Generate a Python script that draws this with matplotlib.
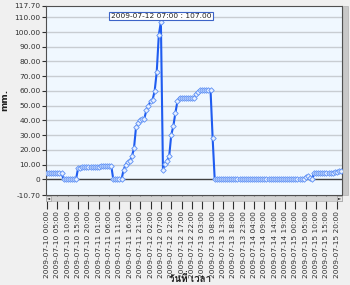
"""
กราฟปริมาณน้ำฝนรายชั่วโมง 2009-07-10 ถึง 2009-07-15 (mm.)
"""
import matplotlib
matplotlib.use("Agg")
import matplotlib.pyplot as plt
import matplotlib.patches as mpatches
from matplotlib import font_manager
from matplotlib.ft2font import FT2Font
import pandas as pd

# ─── Datos ────────────────────────────────────────────────────────────────────
START = "2009-07-10 00:00"
N_HOURS = 143

rain_mm = [
    4.0, 4.0, 4.0, 4.0, 4.0, 4.0, 4.0, 4.0,
    0.0, 0.0, 0.0, 0.0, 0.0, 0.0, 0.0,
    7.5, 7.8,
    8.4, 8.4, 8.4, 8.4, 8.4, 8.4, 8.4, 8.4, 8.4,
    9.3, 9.3, 9.3, 9.3, 9.3, 9.3,
    0.0, 0.0, 0.0, 0.0, 0.0,
    6.5, 10.0, 11.5, 12.5, 15.5, 21.0, 35.5, 38.0, 40.0, 41.0,
    41.2, 47.0, 50.0, 53.0, 54.0, 60.0, 73.0, 98.0, 107.0,
    6.6, 10.5, 12.5, 15.5, 30.0, 36.0, 45.0, 53.0, 55.5,
    55.5, 55.5, 55.5, 55.5, 55.5, 55.5, 55.5,
    58.0, 59.5, 60.3, 60.5, 60.5, 60.5, 60.5, 60.3, 28.0,
    0.0, 0.0, 0.0, 0.0, 0.0, 0.0, 0.0, 0.0, 0.0, 0.0,
    0.0, 0.0, 0.0, 0.0, 0.0, 0.0, 0.0, 0.0, 0.0, 0.0,
    0.0, 0.0, 0.0, 0.0, 0.0, 0.0, 0.0, 0.0, 0.0, 0.0,
    0.0, 0.0, 0.0, 0.0, 0.0, 0.0, 0.0, 0.0, 0.0, 0.0,
    0.0, 0.0, 0.0,
    0.5, 1.2, 2.2, 1.0, 0.0, 4.0,
    4.2, 4.2, 4.2, 4.2, 4.2, 4.2, 4.2, 4.2,
    4.4, 4.8, 5.2, 5.3, 5.3,
]

Y_TICKS = [-10.7, 0, 10, 20, 30, 40, 50, 60, 70, 80, 90, 100, 110, 117.7]
Y_LABELS = ["-10.70", "0", "10.00", "20.00", "30.00", "40.00", "50.00",
            "60.00", "70.00", "80.00", "90.00", "100.00", "110.00", "117.70"]
GRID_Y = [10, 20, 30, 40, 50, 60, 70, 80, 90, 100, 110]

tiempos = pd.date_range(START, periods=N_HOURS, freq="h")
X_TICKS = list(range(0, N_HOURS, 5))
X_LABELS = [tiempos[i].strftime("%Y-%m-%d %H:%M") for i in X_TICKS]

PEAK_IDX = rain_mm.index(max(rain_mm))
TOOLTIP = f"{tiempos[PEAK_IDX].strftime('%Y-%m-%d %H:%M')} : {rain_mm[PEAK_IDX]:.2f}"

# ─── Fuente con glifos tailandeses ────────────────────────────────────────────
def buscar_fuente_thai():
    for f in font_manager.fontManager.ttflist:
        try:
            if FT2Font(f.fname).get_char_index(ord("ว")):
                return f.name
        except Exception:
            continue
    return None

THAI = buscar_fuente_thai()
plt.rcParams["font.family"] = ["DejaVu Sans"]

# ─── Figura ───────────────────────────────────────────────────────────────────
W, H = 350, 285
fig = plt.figure(figsize=(W / 100, H / 100), dpi=100)
fig.patch.set_facecolor("#F0F0F0")

L, R, T, B = 46, 342, 6, 195
ax = fig.add_axes([L / W, 1 - B / H, (R - L) / W, (B - T) / H])
ax.set_facecolor("#F0F8FF")

for g in GRID_Y:
    ax.axhline(g, color="#C8CDD2", lw=1.0, zorder=1)
ax.axhline(0, color="#404040", lw=1.0, zorder=2)

ax.plot(range(len(rain_mm)), rain_mm, color="#1F5CF0", lw=1.5,
        marker="D", markersize=2.8, markerfacecolor="#E6EFFF",
        markeredgecolor="#5A8EF5", markeredgewidth=0.6, zorder=3)

ax.text(PEAK_IDX, 110.9, TOOLTIP, ha="center", va="center", fontsize=5.3,
        color="#202020", zorder=5,
        bbox=dict(boxstyle="square,pad=0.2", fc="white", ec="#3C64C8", lw=0.8))

ax.set_xlim(-0.5, N_HOURS - 0.5)
ax.set_ylim(-10.7, 117.7)

ax.set_yticks(Y_TICKS)
ax.set_yticklabels(Y_LABELS)
ax.set_xticks(X_TICKS)
ax.set_xticklabels(X_LABELS, rotation=90)
ax.tick_params(axis="y", direction="out", length=3, width=0.8, pad=1,
               labelsize=5.3, colors="#303030")
ax.tick_params(axis="x", direction="out", length=10, width=0.8, pad=1.5,
               labelsize=5.3, colors="#303030")
for s in ax.spines.values():
    s.set_color("#505050")
    s.set_linewidth(0.8)

# barras de desplazamiento (como en la captura)
fig.patches.append(mpatches.Rectangle((L / W, 1 - 201 / H), (R - L) / W, 5 / H,
                                      transform=fig.transFigure,
                                      fc="#D4D4D4", ec="#B0B0B0", lw=0.4))
for xb in (L, R - 5):
    fig.patches.append(mpatches.Rectangle((xb / W, 1 - 201 / H), 5 / W, 5 / H,
                                          transform=fig.transFigure,
                                          fc="#E8E8E8", ec="#909090", lw=0.4))
fig.text((L + 2.5) / W, 1 - 198.5 / H, "◄", fontsize=3, ha="center",
         va="center", color="#202020")
fig.text((R - 2.5) / W, 1 - 198.5 / H, "►", fontsize=3, ha="center",
         va="center", color="#202020")
fig.patches.append(mpatches.Rectangle((343 / W, 1 - B / H), 5 / W, (B - T) / H,
                                      transform=fig.transFigure,
                                      fc="#C8C8C8", ec="#A8A8A8", lw=0.4))

fig.text(5 / W, 1 - 100 / H, "mm.", rotation=90, ha="center", va="center",
         fontsize=6.5, fontweight="bold", color="#202020")
fig.text(190 / W, 1 - 279 / H, "วันที่ เวลา", ha="center", va="center",
         fontsize=7, fontweight="bold", color="#202020",
         family=[THAI, "DejaVu Sans"] if THAI else ["DejaVu Sans"])

fig.savefig("out.png", dpi=100, facecolor=fig.get_facecolor())
